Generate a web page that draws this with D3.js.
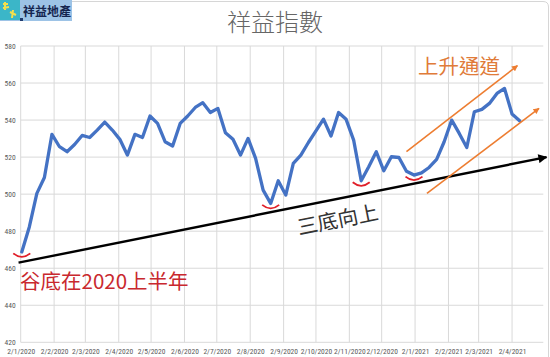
<!DOCTYPE html>
<html><head><meta charset="utf-8">
<script src="https://cdn.jsdelivr.net/npm/d3@7"></script>
<style>body{margin:0;background:#fff}svg{display:block}</style>
</head><body><svg id="c" width="550" height="357"></svg>
<script>
// ---- data ----
const weekDates = [
 "2020-01-03","2020-01-10","2020-01-17","2020-01-24","2020-01-31","2020-02-07","2020-02-14","2020-02-21","2020-02-28",
 "2020-03-06","2020-03-13","2020-03-20","2020-03-27","2020-04-03","2020-04-10","2020-04-17","2020-04-24","2020-05-01",
 "2020-05-08","2020-05-15","2020-05-22","2020-05-29","2020-06-05","2020-06-12","2020-06-19","2020-06-26","2020-07-03",
 "2020-07-10","2020-07-17","2020-07-24","2020-07-31","2020-08-07","2020-08-14","2020-08-21","2020-08-28","2020-09-04",
 "2020-09-11","2020-09-18","2020-09-25","2020-10-02","2020-10-09","2020-10-16","2020-10-23","2020-10-30","2020-11-06",
 "2020-11-13","2020-11-20","2020-11-27","2020-12-04","2020-12-11","2020-12-18","2020-12-25","2021-01-01","2021-01-08",
 "2021-01-15","2021-01-22","2021-01-29","2021-02-05","2021-02-12","2021-02-19","2021-02-26","2021-03-05","2021-03-12",
 "2021-03-19","2021-03-26","2021-04-02","2021-04-09"];
const indexValues = [
 468.8,482.3,500.4,509.0,532.3,525.6,522.9,526.8,531.7,
 530.6,534.6,538.9,534.6,529.6,521.1,532.3,530.6,542.2,
 538.2,528.3,526.0,538.2,542.2,546.8,549.4,544.1,546.3,
 533.2,529.6,521.1,530.1,519.3,502.2,495.0,507.2,499.5,
 516.6,521.1,527.9,534.2,540.5,531.4,544.1,540.4,529.2,
 507.2,514.8,522.9,512.6,520.2,519.8,512.4,510.3,511.5,
 514.4,518.8,528.3,540.0,532.8,525.2,544.5,545.8,549.0,
 554.4,557.1,543.3,539.6];
const yTicks = [420,440,460,480,500,520,540,560,580];
const xTickLabels = ["2/1/2020","2/2/2020","2/3/2020","2/4/2020","2/5/2020","2/6/2020","2/7/2020","2/8/2020",
 "2/9/2020","2/10/2020","2/11/2020","2/12/2020","2/1/2021","2/2/2021","2/3/2021","2/4/2021"];
const xDomain = ["2020-01-02","2021-05-01"];
const yDomain = [420,580];
const troughIdx = [0,33,45,52];
const trendLine = [["2019-12-31",463.0],["2021-05-04",520.0]];
const channelUpper = [["2020-12-25",522.9],["2021-04-07",569.4]];
const channelLower = [["2021-01-13",500.4],["2021-04-27",546.3]];

// ---- chart ----
const svg = d3.select("#c");
const pIso = d3.timeParse("%Y-%m-%d");
const pDMY = d3.timeParse("%d/%m/%Y");
const x = d3.scaleTime().domain(xDomain.map(pIso)).range([20.7, 543.3]);
const y = d3.scaleLinear().domain(yDomain).range([342.3, 46]);
const gray = "#595959", grid = "#d9d9d9";
const cjk = "'Noto Sans CJK TC','Noto Sans CJK SC',sans-serif";
const small = "'Liberation Sans Narrow','Roboto Condensed','Roboto',sans-serif";

// frame (top/right)
svg.append("path").attr("d","M0,1.5 H543 Q548.5,1.5 548.5,7 V357")
  .attr("fill","none").attr("stroke","#d6d6d6").attr("stroke-width",1);

// gridlines
const tickDates = xTickLabels.map(pDMY);
svg.append("g").selectAll("line").data(yTicks).join("line")
  .attr("x1", x.range()[0]).attr("x2", x.range()[1])
  .attr("y1", d=>y(d)).attr("y2", d=>y(d))
  .attr("stroke", grid).attr("stroke-width",1);
svg.append("g").selectAll("line").data(tickDates).join("line")
  .attr("x1", d=>x(d)).attr("x2", d=>x(d))
  .attr("y1", y(yDomain[1])).attr("y2", y(yDomain[0]))
  .attr("stroke", grid).attr("stroke-width",1);

// axes (labels only)
const yAxis = d3.axisLeft(y).tickValues(yTicks).tickSize(0).tickPadding(5);
const gy = svg.append("g").attr("transform",`translate(${x.range()[0]},0)`).call(yAxis);
gy.select(".domain").remove();
gy.selectAll("text").attr("fill",gray).style("font-size","7.5px").style("font-family",small);

const xAxis = d3.axisBottom(x).tickValues(tickDates).tickSize(0).tickPadding(6)
  .tickFormat((d,i)=>xTickLabels[i]);
const gx = svg.append("g").attr("transform",`translate(0,${y(yDomain[0])})`).call(xAxis);
gx.select(".domain").remove();
gx.selectAll("text").attr("fill",gray).style("font-size","7.5px").style("font-family",small);

// series line
const pts = weekDates.map((d,i)=>({date:pIso(d), v:indexValues[i]}));
svg.append("path").datum(pts)
  .attr("d", d3.line().x(d=>x(d.date)).y(d=>y(d.v)))
  .attr("fill","none").attr("stroke","#4472C4").attr("stroke-width",3.3)
  .attr("stroke-linejoin","round").attr("stroke-linecap","round");

// markers
const defs = svg.append("defs");
defs.append("marker").attr("id","ab").attr("viewBox","0 0 10 10").attr("refX",9).attr("refY",5)
  .attr("markerUnits","userSpaceOnUse").attr("markerWidth",10).attr("markerHeight",9).attr("orient","auto")
  .append("path").attr("d","M0,0 L10,5 L0,10 Z").attr("fill","#000");
defs.append("marker").attr("id","ao").attr("viewBox","0 0 10 10").attr("refX",9).attr("refY",5)
  .attr("markerUnits","userSpaceOnUse").attr("markerWidth",7).attr("markerHeight",6).attr("orient","auto")
  .append("path").attr("d","M0,0 L10,5 L0,10 Z").attr("fill","#ED7D31");

const seg = a => ({x1:x(pIso(a[0][0])), y1:y(a[0][1]), x2:x(pIso(a[1][0])), y2:y(a[1][1])});

// trend arrow
const t = seg(trendLine);
svg.append("line").attr("x1",t.x1).attr("y1",t.y1).attr("x2",t.x2).attr("y2",t.y2)
  .attr("stroke","#000").attr("stroke-width",2.4).attr("marker-end","url(#ab)");

// channel arrows
[channelUpper, channelLower].forEach(c=>{
  const s = seg(c);
  svg.append("line").attr("x1",s.x1).attr("y1",s.y1).attr("x2",s.x2).attr("y2",s.y2)
    .attr("stroke","#ED7D31").attr("stroke-width",1.6).attr("marker-end","url(#ao)");
});

// trough smiles
svg.append("g").selectAll("path").data(troughIdx).join("path")
  .attr("d", i=>{const cx=x(pts[i].date), cy=y(pts[i].v);
    return `M${cx-8.5},${cy+1.5} Q${cx},${cy+8.5} ${cx+8.5},${cy+1.5}`;})
  .attr("fill","none").attr("stroke","#E0202A").attr("stroke-width",1.8);

// texts
svg.append("text").attr("x",275).attr("y",31).attr("text-anchor","middle")
  .attr("fill","#666").style("font-size","24px").style("font-weight","300").style("font-family",cjk).text("祥益指數");

svg.append("text").attr("x",20).attr("y",289).attr("fill","#C9282E")
  .style("font-size","20.5px").style("font-family",cjk).text("谷底在2020上半年");

svg.append("text").attr("x",418).attr("y",74).attr("fill","#E07B39")
  .style("font-size","20.5px").style("font-family",cjk).text("上升通道");

const ang = Math.atan2(t.y2-t.y1, t.x2-t.x1)*180/Math.PI;
svg.append("text").attr("transform",`translate(299,235) rotate(${ang})`).attr("fill","#333")
  .style("font-size","20.5px").style("font-family",cjk).text("三底向上");

// logo
const logo = svg.append("g");
logo.append("rect").attr("x",0).attr("y",0).attr("width",72).attr("height",21).attr("fill","#9DC3E6");
logo.append("rect").attr("x",0).attr("y",0).attr("width",20).attr("height",20).attr("fill","#3BB6C8");
logo.append("path").attr("d","M3,4 L8,4 M5,2 L5,10 M3,8 L9,7 M10,12 L16,15 M13,10 L12,18")
  .attr("stroke","#F4E04D").attr("stroke-width",2).attr("fill","none");
logo.append("rect").attr("x",20).attr("y",18).attr("width",3).attr("height",3).attr("fill","#1F3A6E");
logo.append("text").attr("x",23).attr("y",16).attr("fill","#15254F")
  .style("font-size","12px").style("font-weight","bold").style("font-family",cjk).text("祥益地產");
</script>
</body></html>
